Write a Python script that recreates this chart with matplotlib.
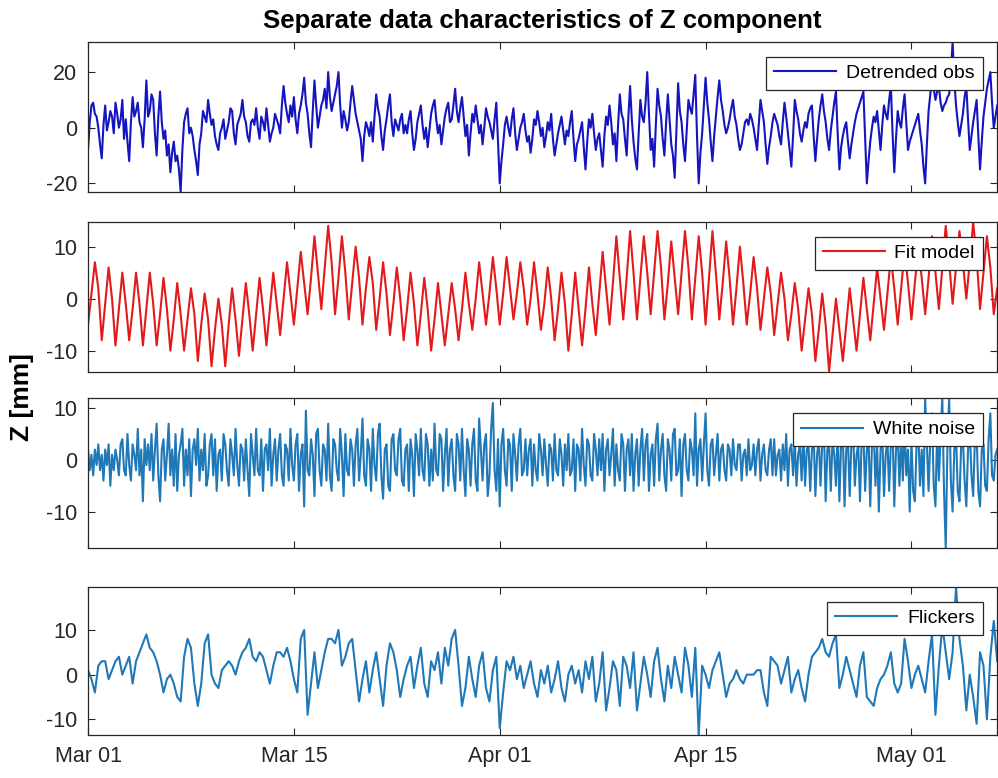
import numpy as np
import matplotlib
matplotlib.use('Agg')
import matplotlib.pyplot as plt

# date labels sit at equal spacing along the sample axis
tick_pos = [0, 60, 120, 180, 240]
tick_lab = ['Mar 01', 'Mar 15', 'Apr 01', 'Apr 15', 'May 01']

# detrended observations [mm], two readings per sample step
obs = [-8, 2, 8, 9, 5, 4, 0, -6, -11, 1, 8, -1, 2, 6, 4, -2, 9, 5, 0, 3,
       10, -4, 3, -5, -12, 2, 11, 4, 6, 9, 2, 0, -7, 3, 17, 4, 6, 12, 10, -2,
       -10, 4, 13, 2, -4, -1, -10, -6, -16, -9, -5, -12, -10, -15, -23, -8, 2, 5, 7, -2,
       0, -3, -8, -12, -17, -6, -2, 6, 4, 2, 10, 5, 1, 3, -3, -6, -8, -2, 0, 3,
       -4, -1, 2, 7, 6, -2, -6, 1, 3, 5, 10, 4, 2, -3, -5, 2, 3, 1, 7, 0,
       -4, 4, 2, -1, 7, 1, -5, -2, 0, 5, 3, 1, -2, 8, 15, 9, 5, 2, 8, 4,
       11, 3, -2, 5, 8, 12, 18, 9, 5, -2, -7, 6, 17, 8, 0, 4, 8, 10, 14, 7,
       20, 11, 6, 9, 12, 15, 20, 8, 0, 6, 3, -1, 2, 9, 15, 10, 5, 2, -1, -4,
       -12, -3, 2, 0, -3, 2, -5, 4, 12, 7, 4, -3, -8, -1, 3, 8, 12, 2, -3, 3,
       1, -1, 3, 5, -2, 1, -2, 3, 6, -2, -8, -4, 2, 5, 8, 1, -4, 0, -7, -1,
       5, 8, 10, 3, -2, 1, -6, -1, 4, 7, 9, 2, 3, 8, 14, 6, 2, 7, 11, 4,
       -3, 1, -10, -2, 5, 2, 8, 3, -2, 1, -6, 0, 7, 4, 2, -1, -4, 3, 9, -5,
       -20, -12, -6, 1, 4, 0, -3, 3, 7, -2, -8, -4, 0, 2, 5, -1, -5, -3, -9, -4,
       3, 1, 6, 2, -3, 0, -7, -3, 2, -1, 5, -4, -10, -6, -2, 1, 4, -1, -6, -1,
       -3, 2, 6, -4, -12, -6, -4, -1, 2, -7, -15, -5, 3, 0, 5, -2, -8, -4, -2, -8,
       -14, -3, 4, 1, 8, 2, -6, -2, -12, 1, 12, 5, 3, -4, -10, 4, 15, 3, -5, -11,
       -15, -2, 10, 4, 2, 9, 20, 5, -8, -4, -14, 1, 14, 8, 4, -4, -10, 2, 12, 3,
       -6, -10, -18, -1, 16, 6, 2, -6, -12, -1, 10, 7, 5, 12, 19, -3, -20, -9, -2, 8,
       18, 9, 3, -5, -12, -3, 4, 11, 17, 10, 6, 1, -2, 0, 3, 7, 10, 4, 1, -4,
       -8, -6, -2, 2, 3, 1, 5, 3, 0, -4, -8, 1, 10, 6, 2, -6, -13, -7, -3, 2,
       5, 3, 1, -3, -6, 2, 9, 4, -2, -8, -14, -3, 10, 6, 3, -2, -5, -1, 2, 0,
       5, 7, 8, -3, -12, -4, 3, 8, 12, 6, 2, -4, -8, -1, 4, 9, 13, -2, -15, -7,
       -3, 0, 2, -5, -11, -6, -2, 2, 5, 7, 9, 11, 13, -4, -20, -12, -5, 0, 4, 2,
       6, -1, -8, 1, 8, 5, 3, 10, 15, -2, -16, -4, 6, 2, 0, 7, 12, 2, -8, -5,
       -3, -1, 1, 3, 5, -1, -6, -14, -20, -6, 6, 12, 18, 14, 10, 13, 15, 9, 6, 8,
       9, 11, 12, 20, 30.7, 17, 8, 2, -3, 1, 5, 11, 15, 3, -8, -3, 2, 6, 10, -3,
       -15, -5, 4, 9, 14, 17, 20, 9, 0, 4, 8]

# fitted model [mm]
fit = [-5, 1, 7, 2, -8, -1, 6, 0, -9, -2, 5, -1, -8, -2, 5, -1, -9, -2, 5, -1,
       -9, -3, 4, -2, -10, -4, 3, -3, -10, -4, 2, -3, -12, -5, 1, -4, -13, -6, 0, -5,
       -13, -5, 2, -4, -11, -4, 3, -3, -10, -3, 4, -2, -9, -2, 5, -1, -7, 0, 7, 1,
       -5, 2, 9, 3, -3, 4, 12, 5, -2, 6, 14, 7, -3, 4, 12, 5, -4, 3, 10, 4,
       -5, 2, 8, 3, -6, 0, 7, 1, -7, -1, 6, 0, -8, -2, 5, -1, -9, -3, 4, -2,
       -10, -4, 3, -3, -9, -3, 3, -2, -8, -2, 5, -1, -6, 0, 7, 1, -5, 1, 8, 2,
       -5, 1, 8, 2, -4, 1, 7, 2, -5, 0, 7, 1, -6, -1, 6, 0, -8, -2, 5, -1,
       -10, -3, 5, -2, -9, -2, 6, -1, -7, 1, 9, 2, -5, 3, 12, 4, -4, 4, 13, 5,
       -4, 4, 12, 5, -3, 5, 13, 6, -4, 3, 11, 4, -3, 5, 13, 6, -4, 4, 12, 5,
       -5, 4, 13, 5, -4, 3, 11, 4, -5, 2, 10, 3, -5, 1, 8, 2, -6, 0, 6, 1,
       -7, -1, 5, 0, -8, -3, 3, -2, -10, -4, 2, -3, -12, -6, 1, -5, -14, -7, 0, -6,
       -12, -5, 2, -4, -10, -3, 4, -2, -8, -1, 6, 0, -6, 1, 8, 2, -5, 2, 9, 3,
       -4, 3, 10, 4, -3, 4, 12, 5, -2, 6, 14, 7, -1, 6, 13, 7, 0, 7, 14.7, 8,
       -2, 5, 12, 6, -3, 2]

# white noise part [mm], two readings per sample step
white = [2, -2, 1, -3, 2, -1, 3, -2, 1, -4, 2, -1, 3, -5, 1, -2, 2, 0, -3, 3,
         4, -2, -3, 5, -1, -4, 3, 1, -2, 6, -3, 2, -8, 4, -1, 3, -2, 5, -4, 2,
         7, -3, -8, 2, 4, -4, 1, 7, -3, 2, -5, 5, -6, 1, 3, 6, -5, 2, -3, 4,
         -7, 2, 4, -1, 6, -4, 2, -2, 5, -5, -3, 3, 5, -3, 4, -6, 1, 2, -4, 5,
         3, -2, -5, 4, 1, -3, 6, -1, -5, 3, 2, -4, 4, -2, -7, 5, 1, -3, 6, -2,
         -3, 4, -6, 2, 3, -2, 6, -5, 1, 4, -4, 2, 5, -3, -5, 3, 2, -4, 6, -1,
         -4, 3, 5, -6, 1, 3, -9, 9.5, -2, -3, 4, 1, -7, 5, 6, -2, -5, 3, 2, -4,
         7, -3, -6, 4, 3, -2, -4, 6, 1, -7, 5, -2, -3, 4, 2, -5, 3, 6, -4, 1,
         8, -3, -5, 4, 2, -6, 6, -1, -4, 5, 7, -3, -7.5, 2, 3, -5, -6, 4, 5, -2,
         -3, 4, 6, -4, -5, 2, 3, -6, 4, 1, -7, 5, 2, -3, 6, -2, -4, 5, 3, -5,
         2, -4, 7, -2, -3, 5, 4, -6, 1, 6, -5, 2, 4, -3, -6, 5, 3, -4, 6, -2,
         -7, 4, 2, -5, 3, 6, -4, -6, 8, 2, -4, 3, 5, -7, -3, 6, 11, -2, -6, 4,
         -9, 3, 6, -2, -5, 4, 3, -6, 5, 1, -4, 3, 6, -3, -2, 4, -3, 2, 4, -5,
         3, -2, -4, 5, 2, -3, 4, -1, -5, 3, 2, -4, 5, -2, -3, 4, 1, -5, 3, -2,
         5, -3, -2, 4, -6, 3, 2, -4, 6, -1, -5, 4, 3, -3, -4, 5, 2, -3, 4, -2,
         5, -6, 2, 4, -3, 1, 6, -5, 3, -2, -4, 5, 3, -6, 2, 4, -3, 5, -6, 1,
         4, -5, 2, 6, -4, 3, 5, -6, 1, 3, -5, 4, 7, -4, 2, 5, -3, -6, 4, 2,
         -4, 5, 6, -3, -2, 4, -7, 3, 5, -2, -4, 4, 2, -3, 9, -5, 2, 4, -4, 3,
         9, -2, -5, 3, 4, -3, 1, 5, -4, 2, 3, -2, -4, 3, 2, -3, 4, -1, -2, 3,
         3, -4, 1, 2, -3, 4, -2, -1, 3, -3, 2, 4, -4, 1, 3, -2, -3, 2, 4, -3,
         4, -3, 1, 2, -4, 3, -2, 5, -5, 2, 3, -3, 4, -5, 1, 3, -4, 5, -5, 2,
         3, -6, 2, 5, -7, 1, 4, -5, 3, 6, -8, 2, 3, -6, 4, 1, -5, 6, -8, 3,
         5, -9, 2, 4, -7, 3, 6, -5, 1, 3, -8, 4, 5, -6, 2, 4, -9, 3, 6, -5,
         3, -10, 2, 5, -7, 1, 4, -6, 3, 6, -9, 2, 5, -5, 4, -4, 7, -3, 2, -10,
         4, -6, -8, 3, 6, -5, 2, -7, 12, 3, -6, 4, 9, -5, -9, 6, -4, 5, 12, -6,
         -17, 3, 12, -4, -10, 2, 5, -6, -8, 3, 4, -4, -9, 2, 6, -3, -7, 4, 5, -6,
         -9, 2, 3, -5, -6, 4, 9, -3, -4, 1, 2]

# flicker noise part [mm]
flick = [1, -1, -4, 2, 3, 3, -1, 1, 3, 4, 0, 2, 4, -2, 3, 5, 7, 9, 6, 5,
         3, 0, -4, -1, 0, -2, -5, -6, 4, 8, 6, -2, -7, -2, 7, 9, 0, -2, -3, 1,
         2, 3, 2, 0, 3, 5, 6, 8, 4, 3, 5, 4, 1, -2, 2, 5, 5, 4, 6, 3,
         -1, -4, 8, 10, -9, -2, 5, -3, 1, 5, 8, 8, 7, 10, 2, 4, 7, 8, 1, -6,
         -1, 3, -4, 1, 5, -1, -7, 2, 7, 5, 1, -5, -1, 2, 4, -3, 2, 6, -2, -5,
         3, 1, 5, -2, 6, 2, 8, 10, 2, -7, -3, 4, -1, -5, 2, 5, -3, -6, 1, 4,
         -12, -4, 3, 1, 4, -1, 2, -3, 0, 3, -2, -5, 1, -2, 2, -4, -1, 3, -3, -6,
         0, 2, -2, 1, -4, 3, -1, 4, -6, -2, 5, -8, -3, 3, 1, -7, 4, 2, -3, 5,
         -8, -2, 4, 0, -5, 3, 6, -1, -6, 2, -3, 4, 0, -4, 6, 2, -5, 6, -13.5, 2,
         0, -3, 1, 3, 5, 0, -5, -2, -1, 1, -1, -2, 0, 0, 0, 1, 1, -4, -7, 4,
         3, 2, -2, 1, 4, -4, -1, 1, -3, -6, 0, 4, 5, 6, 8, 5, 4, 7, 9, -3,
         0, 4, 1, -2, -5, 2, 5, -5, -6, -7, -3, -1, 0, 2, 5, -2, -4, -2, 8, 3,
         -3, 0, 2, -1, -4, 3, 9, -9, 2, 11, 5, -1, 5, 19.6, 8, 2, -8, 0, -5, -11,
         5, 2, -10, 4, 12, 3]

series = [(obs, 'Detrended obs', '#1515c0', (-23, 30.7), [-20, 0, 20]),
          (fit, 'Fit model', '#e31a1c', (-14.1, 14.75), [-10, 0, 10]),
          (white, 'White noise', '#1f78b8', (-17.1, 11.9), [-10, 0, 10]),
          (flick, 'Flickers', '#1f78b8', (-13.5, 19.6), [-10, 0, 10])]

plt.rcParams['font.family'] = ['Liberation Sans', 'DejaVu Sans']
plt.rcParams['axes.unicode_minus'] = False

fig = plt.figure(figsize=(9.98, 7.78), dpi=100)
# [bottom, height] of every panel in figure fraction
rows = [(0.7536, 0.1920), (0.5219, 0.1928), (0.2952, 0.1928), (0.0553, 0.1902)]

axes = []
for i, (y, name, col, lim, yt) in enumerate(series):
    ax = fig.add_axes([0.0882, rows[i][0], 0.9110, rows[i][1]])
    x = np.linspace(0, 265, len(y))
    ax.plot(x, y, color=col, lw=1.5, label=name)
    ax.set_xlim(0, 265)
    ax.set_ylim(lim)
    ax.set_yticks(yt)
    ax.set_xticks(tick_pos)
    if i == 3:
        ax.set_xticklabels(tick_lab)
    else:
        ax.set_xticklabels([])
    ax.tick_params(direction='in', length=5, width=0.8, top=True, right=True,
                   labelsize=15.5, colors='#262626', pad=8)
    for s in ax.spines.values():
        s.set_color('#262626')
        s.set_linewidth(0.9)
    leg = ax.legend(loc='upper right', fontsize=14, handlelength=3.2, fancybox=False,
                    framealpha=1, edgecolor='#262626', borderaxespad=0.75,
                    borderpad=0.4, handletextpad=0.5)
    leg.get_frame().set_linewidth(0.9)
    axes.append(ax)

axes[0].set_title('Separate data characteristics of Z component', fontsize=18.5,
                  fontweight='bold', pad=10)
fig.text(0.022, 0.49, 'Z [mm]', rotation=90, fontsize=19, fontweight='bold',
         ha='center', va='center')

fig.savefig('out.png', dpi=100)
